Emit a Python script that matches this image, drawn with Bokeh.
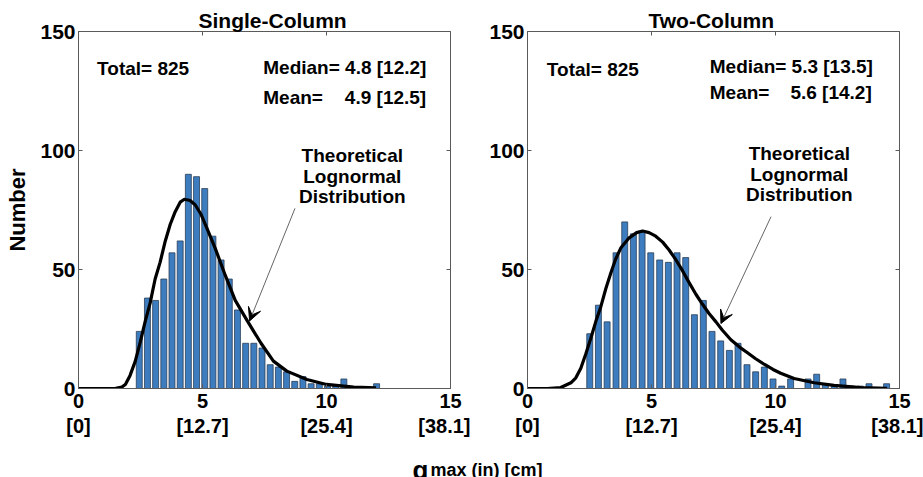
from bokeh.plotting import figure
from bokeh.models import Label, Arrow, VeeHead, LinearAxis, FixedTicker, Range1d
from bokeh.layouts import column, row
from bokeh.embed import file_html
from bokeh.resources import INLINE

FONT = "Liberation Sans"

# ---------------- data ----------------
x_ticks = [0, 5, 10, 15]
x_tick_labels_in = ["0", "5", "10", "15"]
x_tick_labels_cm = ["[0]", "[12.7]", "[25.4]", "[38.1]"]
y_ticks = [0, 50, 100, 150]

single_bin_centers = [2.45, 2.78, 3.11, 3.44, 3.77, 4.10, 4.43, 4.76, 5.09, 5.42,
                      5.75, 6.08, 6.41, 6.74, 7.07, 7.40, 7.73, 8.06, 8.39, 8.72,
                      9.05, 9.38, 9.71, 10.04, 10.37, 10.70, 11.03, 11.36, 11.69, 12.02]
single_counts = [24, 38, 37, 46, 57, 62, 90, 89, 84, 64,
                 54, 46, 33, 19, 19, 17, 10, 9, 7, 3,
                 5, 2, 2, 1, 1, 4, 0, 0, 0, 2]
single_curve_x = [0, 1.0, 1.5, 1.75, 1.89, 2.08, 2.29, 2.49, 2.69, 2.89, 3.09, 3.29,
                  3.50, 3.70, 3.90, 4.10, 4.27, 4.50, 4.71, 4.95, 5.18, 5.51, 5.92,
                  6.32, 6.82, 7.36, 7.86, 8.40, 9.21, 10.0, 11.1, 12.0]
single_curve_y = [0, 0, 0.1, 0.6, 1.7, 5.5, 11.5, 19.5, 28.2, 36, 46, 53,
                  62, 69, 74.3, 78.3, 79.5, 79, 77.1, 73, 67.3, 59, 47.5,
                  37, 28.2, 19, 11.5, 7.3, 3.8, 1.7, 0.6, 0.3]

two_bin_centers = [2.51, 2.86, 3.21, 3.57, 3.92, 4.27, 4.62, 4.97, 5.33, 5.68,
                   6.03, 6.38, 6.73, 7.09, 7.44, 7.79, 8.14, 8.49, 8.85, 9.20,
                   9.55, 9.90, 10.25, 10.61, 10.96, 11.31, 11.66, 12.01, 12.37, 12.72,
                   13.07, 13.42, 13.77, 14.13, 14.48]
two_counts = [23, 35, 28, 57, 70, 65, 66, 57, 54, 53,
              57, 55, 31, 37, 24, 20, 16, 19, 10, 7,
              9, 4, 1, 4, 0, 4, 6, 2, 1, 4,
              1, 1, 2, 0, 2]
two_curve_x = [0, 0.8, 1.34, 1.75, 1.95, 2.15, 2.35, 2.55, 2.75, 2.96, 3.16, 3.36,
               3.56, 3.76, 4.10, 4.40, 4.64, 4.90, 5.17, 5.45, 5.71, 6.0, 6.25,
               6.5, 6.79, 7.05, 7.32, 7.6, 7.86, 8.2, 8.55, 8.87, 9.2, 9.54, 9.9,
               10.21, 10.75, 11.56, 12.36, 13.44, 14.5]
two_curve_y = [0, 0, 0.4, 2.4, 4.5, 8.5, 14.5, 21, 28, 34.5, 42, 48.5,
               54.5, 59, 63.3, 65.5, 66.2, 65.5, 64, 61.5, 58.2, 53.8, 49.5,
               44.8, 39.6, 35.5, 31.5, 28, 24.5, 20.5, 17.4, 15, 12.5, 10.2, 8.0,
               6.4, 4.2, 2.4, 1.3, 0.4, 0.1]

titles = ["Single-Column", "Two-Column"]
totals = ["Total= 825", "Total= 825"]
medians = ["Median= 4.8 [12.2]", "Median= 5.3 [13.5]"]
means = ["4.9 [12.5]", "5.6 [14.2]"]
note_lines = ["Theoretical", "Lognormal", "Distribution"]
x_title_main = "g"
x_title_rest = "max (in) [cm]"

BAR_FILL = "#3D7DBF"
BAR_LINE = "#2B3E55"
AX_COL = "#5A5A5A"

BOTTOM = 66
TOPB = 31
FH = 357
STRIP = 40


def make_panel(centers, counts, cx, cy, bl, br, ylabel,
               title, title_off, tot, tot_pos, med, med_pos, mean_txt, mean_y, mean_right,
               note_x, note_ys, arrow):
    p = figure(frame_width=372, frame_height=FH,
               x_range=Range1d(0, 15), y_range=Range1d(0, 150),
               min_border_left=bl, min_border_right=br,
               min_border_top=TOPB, min_border_bottom=BOTTOM,
               toolbar_location=None, output_backend="svg",
               background_fill_color="white", border_fill_color="white")
    p.grid.visible = False
    p.outline_line_color = AX_COL
    p.outline_line_width = 1

    p.title.text = title
    p.title.align = "left"
    p.title.offset = title_off
    p.title.text_font = FONT
    p.title.text_font_style = "bold"
    p.title.text_font_size = "21px"
    p.title.text_color = "black"
    p.title.standoff = 0

    xa = p.xaxis[0]
    xa.ticker = FixedTicker(ticks=x_ticks)
    xa.major_label_overrides = dict(zip(x_ticks, x_tick_labels_in))
    xa.major_tick_in = 4
    xa.major_tick_out = 0
    xa.minor_tick_line_color = None
    xa.axis_line_color = AX_COL
    xa.major_tick_line_color = AX_COL
    xa.major_label_text_font = FONT
    xa.major_label_text_font_style = "bold"
    xa.major_label_text_font_size = "20px"
    xa.major_label_text_color = "black"
    xa.major_label_standoff = 5
    xa.axis_label = None
    xa.axis_label_standoff = 0

    xb = LinearAxis(ticker=FixedTicker(ticks=x_ticks),
                    major_label_overrides=dict(zip(x_ticks, x_tick_labels_cm)),
                    axis_line_color=None, major_tick_line_color=None,
                    minor_tick_line_color=None, major_tick_out=0, major_tick_in=0,
                    major_label_text_font=FONT, major_label_text_font_style="bold",
                    major_label_text_font_size="20px", major_label_text_color="black",
                    major_label_standoff=4, axis_label=None, axis_label_standoff=0)
    p.add_layout(xb, "below")

    ya = p.yaxis[0]
    ya.ticker = FixedTicker(ticks=y_ticks)
    ya.major_tick_in = 4
    ya.major_tick_out = 0
    ya.minor_tick_line_color = None
    ya.axis_line_color = AX_COL
    ya.major_tick_line_color = AX_COL
    ya.major_label_text_font = FONT
    ya.major_label_text_font_style = "bold"
    ya.major_label_text_font_size = "21px"
    ya.major_label_text_color = "black"
    ya.major_label_standoff = 3
    if ylabel:
        ya.axis_label = ylabel
        ya.axis_label_text_font = FONT
        ya.axis_label_text_font_style = "bold"
        ya.axis_label_text_font_size = "22px"
        ya.axis_label_text_color = "black"
        ya.axis_label_standoff = 7

    top = LinearAxis(ticker=FixedTicker(ticks=x_ticks), major_tick_in=4, major_tick_out=0,
                     major_tick_line_color=AX_COL, axis_line_color=None,
                     minor_tick_line_color=None,
                     major_label_overrides={t: "" for t in x_ticks},
                     major_label_standoff=0, axis_label_standoff=0)
    p.add_layout(top, "above")
    rgt = LinearAxis(ticker=FixedTicker(ticks=y_ticks), major_tick_in=4, major_tick_out=0,
                     major_tick_line_color=AX_COL, axis_line_color=None,
                     minor_tick_line_color=None,
                     major_label_overrides={t: "" for t in y_ticks},
                     major_label_standoff=0, axis_label_standoff=0)
    p.add_layout(rgt, "right")

    p.vbar(x=centers, top=counts, width=0.24, fill_color=BAR_FILL,
           line_color=BAR_LINE, line_width=0.8)
    p.line(cx, cy, line_color="black", line_width=3.2)

    def lab(x, y, t, size="19px", align="left"):
        p.add_layout(Label(x=x, y=y, text=t, text_font=FONT, text_font_style="bold",
                           text_font_size=size, text_color="black",
                           text_align=align, text_baseline="middle"))

    lab(tot_pos[0], tot_pos[1], tot)
    lab(med_pos[0], med_pos[1], med)
    lab(med_pos[0], mean_y, "Mean=")
    lab(mean_right, mean_y, mean_txt, align="right")
    for t, yy in zip(note_lines, note_ys):
        lab(note_x, yy, t, align="center")

    p.add_layout(Arrow(end=VeeHead(size=13, fill_color="black", line_color="black"),
                       x_start=arrow[0], y_start=arrow[1], x_end=arrow[2], y_end=arrow[3],
                       line_color="#666666", line_width=1))
    return p


p1 = make_panel(single_bin_centers, single_counts, single_curve_x, single_curve_y,
                78, 20, "Number",
                titles[0], 120, totals[0], (0.75, 134.5), medians[0], (7.45, 135.0),
                means[0], 122.3, 14.02, 11.04, [97.9, 89.1, 80.6], (8.73, 75.7, 6.9, 28.4))
p2 = make_panel(two_bin_centers, two_counts, two_curve_x, two_curve_y,
                57, 24, None,
                titles[1], 121, totals[1], (0.78, 134.0), medians[1], (7.35, 135.3),
                means[1], 124.5, 13.88, 10.96, [98.6, 89.8, 81.4], (9.82, 72.2, 7.8, 27.3))

# bottom strip: y measured downward from its top edge (0 = top)
p3 = figure(title=None, frame_width=923, frame_height=STRIP,
            x_range=Range1d(0, 923), y_range=Range1d(STRIP, 0),
            x_axis_location=None, y_axis_location=None, min_border=0,
            toolbar_location=None, output_backend="svg", outline_line_color=None)
p3.grid.visible = False
p3.add_layout(Label(x=428, y=15, text=x_title_main, text_font=FONT, text_font_style="bold",
                    text_font_size="26px", text_align="right", text_baseline="alphabetic",
                    text_color="black"))
p3.add_layout(Label(x=430, y=15, text=x_title_rest, text_font=FONT,
                    text_font_style="bold", text_font_size="18px", text_align="left",
                    text_baseline="alphabetic", text_color="black"))

layout = column(row(p1, p2), p3)
open("out.html", "w").write(file_html(layout, INLINE))
